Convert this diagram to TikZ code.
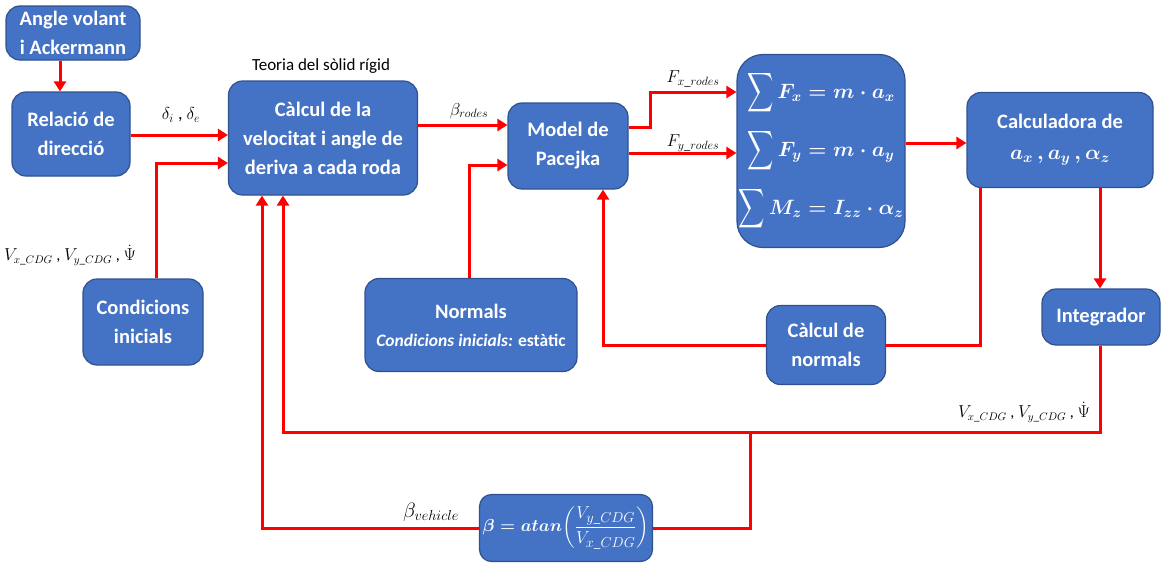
\documentclass[tikz,border=0pt]{standalone}
\usepackage{amsmath,graphicx}
\usepackage{fontspec}
\setmainfont{Carlito}
\usetikzlibrary{arrows.meta,calc}
\definecolor{boxfill}{HTML}{4472C4}
\definecolor{boxedge}{HTML}{2F528F}
\definecolor{wirered}{HTML}{FF0000}
% tall summation sign, centred on the math axis
\newcommand{\bigsum}{\vcenter{\hbox{\scalebox{0.88}[1.32]{$\displaystyle\sum$}}}\,}
\begin{document}
\begin{tikzpicture}[x=1pt,y=-1pt,
  blk/.style={draw=boxedge, line width=1.2pt, fill=boxfill, rounded corners=14pt,
    text=white, font=\fontsize{20.5}{29}\selectfont\bfseries, align=center, inner sep=0pt},
  wire/.style={draw=wirered, line width=3pt},
  flow/.style={wire, -{Triangle[length=10pt,width=12pt]}},
  lbl/.style={font=\fontsize{18}{21}\selectfont, inner sep=0pt},
  ]
\useasboundingbox (0,0) rectangle (1164,562);

% blocks
\node[blk, minimum width=134, minimum height=54] (ack) at (73,33) {Angle volant\\i Ackermann};
\node[blk, minimum width=118, minimum height=84] (rel) at (71,134) {Relació de\\direcció};
\node[blk, minimum width=189, minimum height=114] (cal) at (323,138) {Càlcul de la\\velocitat i angle de\\deriva a cada roda};
\node[lbl, font=\fontsize{17}{20}\selectfont] (teo) at (321,66) {Teoria del sòlid rígid};
\node[blk, minimum width=120, minimum height=86] (pac) at (568,146) {Model de\\Pacejka};
\node[blk, minimum width=168, minimum height=193, rounded corners=26pt,
  font=\fontsize{19.5}{58}\selectfont] (sum) at (821,151)
  {{\boldmath$\bigsum F_x = m\cdot a_x$}\\
   {\boldmath$\bigsum F_y = m\cdot a_y$}\\
   {\boldmath$\bigsum M_z = I_{zz}\cdot \alpha_z$}};
\node[blk, minimum width=186, minimum height=95] (acc) at (1060,140)
  {Calculadora de\\[2pt]{\fontsize{21}{25}\selectfont\boldmath$a_x\,, a_y\,, \alpha_z$}};
\node[blk, minimum width=120, minimum height=86] (ci) at (143,322) {Condicions\\inicials};
\node[blk, minimum width=212, minimum height=93] (nor) at (471,325)
  {Normals\\[-1pt]{\fontsize{17.5}{22}\selectfont\textit{Condicions inicials:} estàtic}};
\node[blk, minimum width=119, minimum height=79] (cn) at (826,345) {Càlcul de\\normals};
\node[blk, minimum width=118, minimum height=56] (int) at (1101,317) {Integrador};
\node[blk, minimum width=173, minimum height=67, rounded corners=12pt,
  font=\fontsize{19}{22}\selectfont] (bet) at (566,528)
  {{\boldmath$\beta = atan$}$\left(\dfrac{V_{y\_CDG}}{V_{x\_CDG}}\right)$};

% signal labels
\node[lbl] (ldel) at (181,115) {$\delta_i$ , $\delta_e$};
\node[lbl, font=\fontsize{16}{19}\selectfont] (lvin) at (70,255) {$V_{x\_CDG}$ , $V_{y\_CDG}$ , $\dot{\Psi}$};
\node[lbl] (lbr) at (469,111) {$\beta_{rodes}$};
\node[lbl] (lfx) at (693,79) {$F_{x\_rodes}$};
\node[lbl] (lfy) at (693,143) {$F_{y\_rodes}$};
\node[lbl, font=\fontsize{16}{19}\selectfont] (lvout) at (1024,412) {$V_{x\_CDG}$ , $V_{y\_CDG}$ , $\dot{\Psi}$};
\node[lbl, font=\fontsize{20}{23}\selectfont] (lbv) at (431,512) {$\beta_{vehicle}$};

% connectors
\coordinate (bus) at (750,432);
\draw[flow] ($(ack.south)+(-13,0)$) -- ($(rel.north)+(-11,0)$);
\draw[flow] ($(rel.east)+(0,1)$) -- ($(cal.west)+(0,-3)$);
\draw[flow] ($(ci.north)+(13,0)$) |- ($(cal.west)+(0,25)$);
\draw[flow] ($(cal.east)+(0,-13)$) -- ($(pac.west)+(0,-21)$);
\draw[flow] ($(nor.north)+(-2,0)$) |- ($(pac.west)+(0,19)$);
\draw[flow] ($(pac.east)+(0,-19)$) -- ++(22,0) |- ($(sum.west)+(0,-59)$);
\draw[flow] ($(pac.east)+(0,7)$) -- ($(sum.west)+(0,2)$);
\draw[flow] ($(sum.east)+(0,-8)$) -- ($(acc.west)+(0,3)$);
\draw[flow] ($(acc.south)+(40,0)$) -- ($(int.north)+(-1,0)$);
\draw[wire] ($(acc.south)+(-80,0)$) |- (cn.east);
\draw[flow] (cn.west) -| ($(pac.south)+(35,0)$);
\draw[flow] ($(int.south)+(-1,0)$) |- (bus) -| ($(cal.south)+(-40,0)$);
\draw[wire] (bus) |- (bet.east);
\draw[flow] (bet.west) -| ($(cal.south)+(-61,0)$);
\end{tikzpicture}
\end{document}
